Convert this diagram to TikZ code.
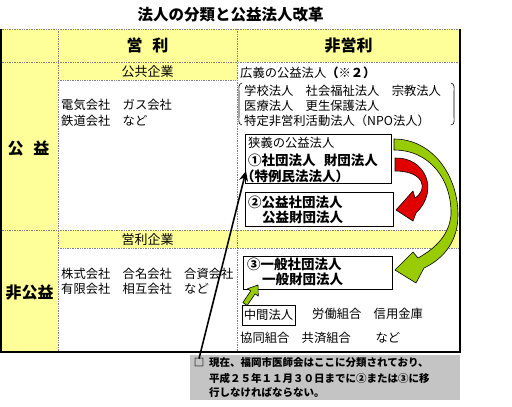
\documentclass[tikz,border=0pt]{standalone}
\usepackage{fontspec}
\newfontfamily\jp{Noto Sans CJK JP}
\usetikzlibrary{arrows.meta}
\definecolor{hdr}{HTML}{FFFF99}
\definecolor{grn}{HTML}{99CC00}
\definecolor{rdd}{HTML}{E00000}
\definecolor{notegray}{HTML}{C4C4C4}
\begin{document}
\begin{tikzpicture}[x=1pt,y=-1pt,
  tx/.style={inner sep=0pt, anchor=west, font=\jp\fontsize{12.3}{14}\selectfont},
  bx/.style={inner sep=0pt, anchor=west, font=\jp\bfseries\fontsize{13.5}{15}\selectfont},
  hd/.style={inner sep=0pt, font=\jp\bfseries\fontsize{16}{18}\selectfont},
  subh/.style={inner sep=0pt, font=\jp\fontsize{13}{15}\selectfont},
  nt/.style={inner sep=0pt, anchor=west, font=\jp\bfseries\fontsize{10.5}{12}\selectfont},
  boxs/.style={draw, line width=0.8pt, inner sep=0pt},
  gridl/.style={draw=gray, densely dotted, line width=0.7pt},
  shapeline/.style={draw=black, line width=0.6pt, line join=round},
  ptr/.style={line width=1.6pt, -{Stealth[length=10pt,width=9pt]}}
]
\useasboundingbox (0,0) rectangle (512,407);
\fill[white] (0,0) rectangle (512,407);

% yellow fills
\fill[hdr] (0,29) rectangle (460,62);
\fill[hdr] (0,62) rectangle (58,352);
\fill[hdr] (58,62) rectangle (237,80);
\fill[hdr] (58,230) rectangle (460,248);

% grid lines
\draw[gridl] (0,29) -- (460,29);
\draw[gridl] (0,62) -- (460,62);
\draw[gridl] (0,230) -- (460,230);
\draw[gridl] (58,80) -- (237,80);
\draw[gridl] (58,248) -- (460,248);
\draw[gridl] (58,29) -- (58,352);
\draw[gridl] (237,29) -- (237,352);
\draw[line width=2pt] (1,29) -- (1,352) -- (460,352) -- (460,29);

% title and headers
\node[inner sep=0pt, font=\jp\bfseries\fontsize{15.5}{17}\selectfont] (title) at (230.5,15) {法人の分類と公益法人改革};
\node[hd] (heigyo) at (147.5,45) {営\hspace{0.6em}利};
\node[hd] (hhieigyo) at (348.5,45) {非営利};
\node[hd] (hkoeki) at (28.5,148) {公\hspace{0.6em}益};
\node[hd] (hhikoeki) at (29.5,293) {非公益};
\node[subh] (skokyo) at (147.5,72) {公共企業};
\node[subh] (seigyo) at (147.5,240) {営利企業};

% middle column
\node[tx] (m1) at (61,105) {電気会社　ガス会社};
\node[tx] (m2) at (61,121) {鉄道会社　など};
\node[tx] (m3) at (61,274) {株式会社　合名会社　合資会社};
\node[tx] (m4) at (61,289) {有限会社　相互会社　など};

% right column, upper
\node[tx] (kogi) at (240,73) {広義の公益法人{\bfseries （※２）}};
\node[tx] (r1) at (244,91) {学校法人　社会福祉法人　宗教法人};
\node[tx] (r2) at (244,106) {医療法人　更生保護法人};
\node[tx] (r3) at (244,121) {特定非営利活動法人（NPO法人）};
\draw[line width=0.6pt] (242,83) .. controls (238,84) and (239,88) .. (239,92) -- (239,116) .. controls (239,121) and (238,124) .. (242,125);
\draw[line width=0.6pt] (451,83) .. controls (455,84) and (454,88) .. (454,92) -- (454,116) .. controls (454,121) and (455,124) .. (451,125);

% boxes
\node[boxs, minimum width=146pt, minimum height=49pt] (b1) at (318,158.5) {};
\node[tx] (b1t1) at (248,143) {狭義の公益法人};
\node[bx] (b1t2) at (248,160) {①社団法人\hspace{0.6em}財団法人};
\node[bx] (b1t3) at (241,176) {（特例民法法人）};

\node[boxs, minimum width=148pt, minimum height=34pt] (b2) at (319,209) {};
\node[bx] (b2t1) at (248,202) {②公益社団法人};
\node[bx] (b2t2) at (262,217) {公益財団法人};

\node[boxs, minimum width=149pt, minimum height=33pt] (b3) at (317.5,272.5) {};
\node[bx] (b3t1) at (247,264) {③一般社団法人};
\node[bx] (b3t2) at (262,279) {一般財団法人};

\node[boxs, minimum width=53pt, minimum height=20pt, font=\jp\fontsize{12.3}{14}\selectfont] (chukan) at (268.5,315) {中間法人};
\node[tx] (r4) at (312,314) {労働組合　信用金庫};
\node[tx] (r5) at (240,338) {協同組合　共済組合　　など};

% red curved arrow
\path[shapeline, fill=rdd] (395,158) .. controls (425,157) and (440,190) .. (416,213)
  -- (413,221) -- (396,210) -- (413,191) -- (415,198)
  .. controls (428,190) and (425,171) .. (395,171) -- cycle;

% green curved arrow
\path[shapeline, fill=grn] (394,139) .. controls (432,139) and (458,175) .. (458,215)
  .. controls (458,240) and (445,258) .. (424,268)
  -- (416,283) -- (395,270) -- (413,252) -- (418,258)
  .. controls (436,248) and (449,235) .. (451,215)
  .. controls (452,180) and (430,150) .. (394,150) -- cycle;

% small green arrow
\path[shapeline, fill=grn] (247.15,305.47) -- (255.05,293.87) -- (258.27,296.07) -- (258,285)
  -- (247.53,288.73) -- (250.75,290.93) -- (242.85,302.53) -- cycle;

% note
\node[fill=notegray, minimum width=270pt, minimum height=45pt, anchor=north west, inner sep=0pt] (note) at (190,355) {};
\node[inner sep=0pt, font=\jp\bfseries\fontsize{10.5}{12}\selectfont] (mk) at (199,363) {□};
\node[nt] (n1) at (209,363) {現在、福岡市医師会はここに分類されており、};
\node[nt] (n2) at (209,378) {平成２５年１１月３０日までに②または③に移};
\node[nt] (n3) at (209,393) {行しなければならない。};

% pointer
\coordinate (ptip) at (246,171);
\draw[ptr] (mk.north) -- (ptip);
\end{tikzpicture}
\end{document}
